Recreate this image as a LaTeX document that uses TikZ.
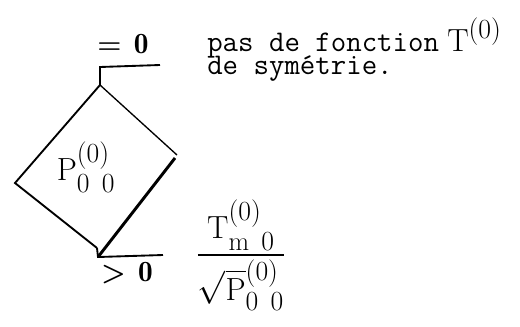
\documentclass[tikz,border=0pt]{standalone}
\usepackage{amsmath}
\usepackage{fontspec}
\DeclareMathSizes{24}{24}{20}{16}
\usetikzlibrary{positioning}

\newcommand{\gap}{\mkern8mu}

\begin{document}
\begin{tikzpicture}[
  x=0.75pt, y=-0.75pt,
  font=\fontsize{24}{28}\selectfont,
  edge/.style={draw=black, line width=1.4pt},
  sign/.style={font=\fontsize{22}{26}\selectfont\bfseries, inner sep=0pt},
  txt/.style={font=\ttfamily\fontsize{22.5}{28}\selectfont, anchor=base west, inner sep=0pt},
]
\useasboundingbox (0,0) rectangle (520,326);
% ---- diamond corners ----
\coordinate (top) at (100,85);
\coordinate (rgt) at (177,155);
\coordinate (rgt2) at (175,158);
\coordinate (bot) at (97,248);
\coordinate (lft) at (15,183);
% ---- exits ----
\coordinate (top-up) at (100,67);
\coordinate (out-a) at (160,65);
\coordinate (bot-dn) at (98,257);
\coordinate (out-b) at (163,255);

\draw[edge, line width=1pt] (rgt) -- (top);
\draw[edge] (top) -- (lft) -- (bot);
\draw[edge, line width=2.2pt] (bot-dn) -- (rgt2);
\draw[edge] (top) -- (top-up) -- (out-a);
\draw[edge] (bot) -- (bot-dn) -- (out-b);

% ---- labels ----
\node (p00) at (86,167) {$\mathrm{P}^{(0)}_{0\gap 0}$};
\node[sign] (eq) at (123,44) {$\boldsymbol{=}\,\mathbf{0}$};
\node[sign] (gt) at (127,273) {$\boldsymbol{>}\,\mathbf{0}$};
\node[txt] (line1) at (207,51) {pas de fonction};
\node[anchor=base west, inner sep=0pt] (tsym) at (447,51) {$\mathrm{T}^{(0)}$};
\node[txt] (line2) at (207,74) {de symétrie.};
\node[inner sep=0pt] (frac) at (241,255) {$\dfrac{\mathrm{T}^{(0)}_{\mathrm{m}\gap 0}}{\sqrt{\mathrm{P}}^{(0)}_{0\gap 0}}$};
\end{tikzpicture}
\end{document}
